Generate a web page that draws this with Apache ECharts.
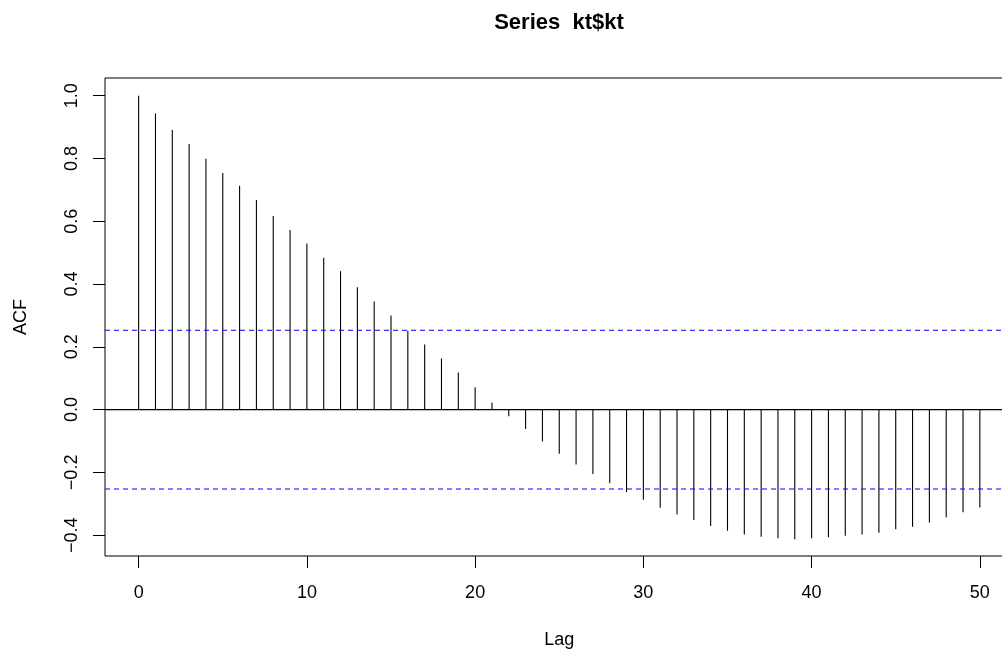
<!DOCTYPE html>
<html>
<head>
<meta charset="utf-8">
<script src="https://cdn.jsdelivr.net/npm/echarts@6/dist/echarts.min.js"></script>
<style>html,body{margin:0;padding:0;background:#fff}#c{width:1002px;height:652px}</style>
</head>
<body>
<div id="c"></div>
<script>
const lags = [0,1,2,3,4,5,6,7,8,9,10,11,12,13,14,15,16,17,18,19,20,21,22,23,24,25,26,27,28,29,30,31,32,33,34,35,36,37,38,39,40,41,42,43,44,45,46,47,48,49,50];
const acf = [1.000,0.943,0.891,0.846,0.799,0.754,0.713,0.668,0.617,0.572,0.529,0.484,0.441,0.390,0.344,0.300,0.251,0.207,0.163,0.118,0.071,0.023,-0.021,-0.062,-0.102,-0.141,-0.175,-0.205,-0.235,-0.263,-0.287,-0.313,-0.334,-0.352,-0.371,-0.386,-0.398,-0.405,-0.410,-0.413,-0.410,-0.407,-0.402,-0.398,-0.392,-0.381,-0.373,-0.360,-0.343,-0.327,-0.312];
const ciBounds = [0.253, -0.253];
const zeroLine = [0];
const xTicks = [0,10,20,30,40,50];
const yTicks = [-0.4,-0.2,0.0,0.2,0.4,0.6,0.8,1.0];
const titleText = 'Series  kt$kt';
const xName = 'Lag';
const yName = 'ACF';

const FONT = '"Liberation Sans", Arial, sans-serif';
const chart = echarts.init(document.getElementById('c'), null, {renderer:'canvas'});
const data = lags.map((l,i)=>[l, acf[i]]);
function hLine(color, dash){
  return function(params, api){
    const cs = params.coordSys;
    const y = api.coord([0, api.value(0)])[1];
    return {type:'line', silent:true,
      shape:{x1:cs.x, y1:y, x2:cs.x+cs.width, y2:y},
      style:{stroke:color, lineWidth:1.1, lineDash:dash}};
  };
}
chart.setOption({
  animation:false,
  backgroundColor:'#fff',
  graphic:[{type:'text', x:559, y:23, style:{text:titleText, font:'bold 22px '+FONT, fill:'#000', align:'center', verticalAlign:'middle'}}],
  grid:{left:105, top:78, width:908.5, height:478, show:true, borderColor:'#000', borderWidth:1, backgroundColor:'transparent', containLabel:false, outerBoundsMode:'none'},
  xAxis:{type:'value', min:-2, max:52, name:xName, nameLocation:'middle', nameGap:75,
    nameTextStyle:{fontFamily:FONT, fontSize:18, color:'#000'},
    axisLine:{show:false, onZero:false}, splitLine:{show:false},
    axisTick:{show:true, length:12, lineStyle:{color:'#000', width:1}, customValues:xTicks},
    axisLabel:{fontFamily:FONT, fontSize:18, color:'#000', margin:28, customValues:xTicks, formatter:v=>String(v)}},
  yAxis:{type:'value', min:-0.4664, max:1.0564, name:yName, nameLocation:'middle', nameGap:75, nameRotate:90,
    nameTextStyle:{fontFamily:FONT, fontSize:18, color:'#000'},
    axisLine:{show:false, onZero:false}, splitLine:{show:false},
    axisTick:{show:true, length:12, lineStyle:{color:'#000', width:1}, customValues:yTicks},
    axisLabel:{fontFamily:FONT, fontSize:18, color:'#000', margin:24, rotate:90, customValues:yTicks, formatter:v=>(v<0?'\u2212':'')+Math.abs(v).toFixed(1)}},
  series:[{
    type:'custom',
    data:data,
    renderItem:function(params, api){
      const p0 = api.coord([api.value(0), 0]);
      const p1 = api.coord([api.value(0), api.value(1)]);
      return {type:'line', shape:{x1:p0[0], y1:p0[1], x2:p1[0], y2:p1[1]}, style:{stroke:'#000', lineWidth:1.1}};
    }
  },{
    type:'custom',
    data:zeroLine.map(v=>[v]),
    encode:{y:0},
    renderItem:hLine('#000000', null)
  },{
    type:'custom',
    data:ciBounds.map(v=>[v]),
    encode:{y:0},
    renderItem:hLine('#0000FF', [5,4])
  }]
});
</script>
</body>
</html>
